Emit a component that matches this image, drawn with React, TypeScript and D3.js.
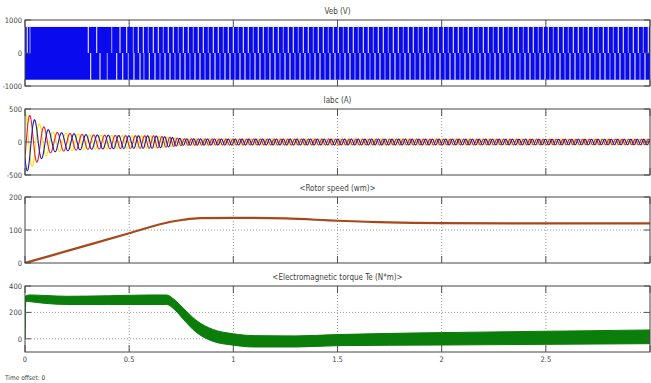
import React, { useEffect, useRef } from "react";
import * as d3 from "d3";

const W = 651;
const H = 383;

// time axis (s)
const xTicks = [0, 0.5, 1, 1.5, 2, 2.5, 3];
const xTickLabels = ["0", "0.5", "1", "1.5", "2", "2.5", ""];

// panels
const titles = ["Veb (V)", "Iabc (A)", "<Rotor speed (wm)>", "<Electromagnetic torque Te (N*m)>"];
const yDomains = [[-1000, 1000], [-500, 500], [0, 200], [-100, 400]];
const yTicks = [[-1000, 0, 1000], [-500, 0, 500], [0, 100, 200], [0, 200, 400]];

// Veb: PWM levels and switching gaps (s)
const vebLevels = [790, -810];
const vebUpperGaps = [0.011, 0.024, 0.304, 0.344, 0.416, 0.456, 0.488, 0.52, 0.544, 0.568, 0.592, 0.616];
const vebLowerGaps = [0.315, 0.36, 0.395, 0.44, 0.469, 0.496, 0.523, 0.552, 0.571, 0.597, 0.624];
const vebGapPeriod = 0.024; // regular switching after the listed gaps

// Iabc: envelope amplitude (A) and electrical frequency (Hz)
const iabcEnvT = [0, 0.03, 0.07, 0.13, 0.3, 0.5, 0.62, 0.7, 0.76, 1.0, 3.0];
const iabcEnvA = [470, 380, 270, 150, 110, 95, 95, 70, 48, 45, 42];
const iabcFreqT = [0, 0.15, 0.3, 0.5, 0.65, 0.76, 3.0];
const iabcFreqHz = [14, 16, 18, 21, 25, 30, 32];
const phaseColors = ["#f2e600", "#e8202a", "#1c1ca8"];

// rotor speed (rad/s)
const speedT = [0, 0.25, 0.5, 0.7, 0.76, 0.84, 1.0, 1.25, 1.5, 1.75, 2.0, 2.5, 3.0];
const speedW = [0, 45, 90, 125, 131, 136, 137, 135, 128, 123, 121, 120, 120];

// electromagnetic torque band (N*m)
const teT = [0, 0.004, 0.02, 0.1, 0.2, 0.4, 0.6, 0.68, 0.72, 0.76, 0.82, 0.9, 1.0, 1.1, 1.3, 1.5, 2.0, 2.5, 3.0];
const teHi = [320, 325, 332, 328, 322, 326, 332, 332, 292, 232, 142, 72, 38, 24, 22, 32, 47, 57, 67];
const teLo = [0, 285, 282, 268, 260, 260, 260, 260, 218, 148, 52, -18, -48, -62, -62, -52, -47, -42, -37];

const FONT = "'Liberation Sans Narrow', 'Arial Narrow', 'DejaVu Sans Condensed', sans-serif";

const App = () => {
  const ref = useRef<SVGSVGElement>(null);

  useEffect(() => {
    const svg = d3.select(ref.current);
    svg.selectAll("*").remove();

    const x = d3.scaleLinear().domain([0, 3]).range([25, 650]);
    const panelTops = [20, 109, 197, 286];
    const panelH = 66;

    const ys = yDomains.map((dom, i) =>
      d3.scaleLinear().domain(dom).range([panelTops[i] + panelH, panelTops[i]])
    );

    panelTops.forEach((top, i) => {
      const g = svg.append("g");
      const y = ys[i];

      g.append("clipPath")
        .attr("id", `clip${i}`)
        .append("rect")
        .attr("x", x(0))
        .attr("y", top)
        .attr("width", x(3) - x(0))
        .attr("height", panelH);

      // grid
      g.selectAll("line.vg")
        .data(xTicks.slice(1, -1))
        .join("line")
        .attr("x1", (d) => x(d))
        .attr("x2", (d) => x(d))
        .attr("y1", top)
        .attr("y2", top + panelH)
        .attr("stroke", "#999")
        .attr("stroke-dasharray", "1,2");
      g.selectAll("line.hg")
        .data(yTicks[i].filter((d) => d !== y.domain()[0] && d !== y.domain()[1]))
        .join("line")
        .attr("x1", x(0))
        .attr("x2", x(3))
        .attr("y1", (d) => y(d))
        .attr("y2", (d) => y(d))
        .attr("stroke", "#999")
        .attr("stroke-dasharray", "1,2");

      const plot = g.append("g").attr("clip-path", `url(#clip${i})`);

      if (i === 0) {
        plot.append("rect")
          .attr("x", x(0)).attr("width", x(3) - x(0))
          .attr("y", y(vebLevels[0])).attr("height", y(0) - y(vebLevels[0]))
          .attr("fill", "#0a0aef");
        plot.append("rect")
          .attr("x", x(0)).attr("width", x(3) - x(0))
          .attr("y", y(0)).attr("height", y(vebLevels[1]) - y(0))
          .attr("fill", "#0a0aef");
        const upper = vebUpperGaps.concat(d3.range(vebUpperGaps[vebUpperGaps.length - 1] + vebGapPeriod, 3, vebGapPeriod));
        const lower = vebLowerGaps.concat(d3.range(vebLowerGaps[vebLowerGaps.length - 1] + vebGapPeriod, 3, vebGapPeriod));
        plot.selectAll("line.gu").data(upper).join("line")
          .attr("x1", (d) => x(d)).attr("x2", (d) => x(d))
          .attr("y1", y(vebLevels[0])).attr("y2", y(0))
          .attr("stroke", "#fff").attr("stroke-width", 1.2).attr("stroke-opacity", (d, k) => (k % 3 === 1 ? 0.55 : 0.85));
        plot.selectAll("line.gl").data(lower).join("line")
          .attr("x1", (d) => x(d)).attr("x2", (d) => x(d))
          .attr("y1", y(0)).attr("y2", y(vebLevels[1]))
          .attr("stroke", "#fff").attr("stroke-width", 1.2).attr("stroke-opacity", (d, k) => (k % 3 === 2 ? 0.55 : 0.85));
      }

      if (i === 1) {
        const env = d3.scaleLinear().domain(iabcEnvT).range(iabcEnvA);
        const freq = d3.scaleLinear().domain(iabcFreqT).range(iabcFreqHz);
        const dt = 0.0004;
        const ts = d3.range(0, 3 + dt, dt);
        let ph = 0;
        const phases = ts.map((t) => {
          const p = ph;
          ph += 2 * Math.PI * freq(t) * dt;
          return p;
        });
        phaseColors.forEach((c, k) => {
          const line = d3.line<number>()
            .x((t) => x(t))
            .y((t, j) => y(env(t) * Math.sin(phases[j] + Math.PI / 2 - (k * 2 * Math.PI) / 3)));
          plot.append("path")
            .attr("d", line(ts))
            .attr("fill", "none")
            .attr("stroke", c)
            .attr("stroke-width", 1.1);
        });
      }

      if (i === 2) {
        const line = d3.line<number>()
          .x((d) => x(speedT[d]))
          .y((d) => y(speedW[d]))
          .curve(d3.curveMonotoneX);
        plot.append("path")
          .attr("d", line(d3.range(speedT.length)))
          .attr("fill", "none")
          .attr("stroke", "#a8481a")
          .attr("stroke-width", 2.2);
      }

      if (i === 3) {
        const area = d3.area<number>()
          .x((d) => x(teT[d]))
          .y0((d) => y(teLo[d]))
          .y1((d) => y(teHi[d]))
          .curve(d3.curveMonotoneX);
        plot.append("path")
          .attr("d", area(d3.range(teT.length)))
          .attr("fill", "#0a7d0a")
          .attr("stroke", "#0a7d0a")
          .attr("stroke-width", 1);
      }

      // ticks
      const tickC = "#555";
      g.selectAll("line.xt").data(xTicks).join("line")
        .attr("x1", (d) => x(d)).attr("x2", (d) => x(d))
        .attr("y1", top).attr("y2", top + 7)
        .attr("stroke", tickC);
      g.selectAll("line.xb").data(xTicks).join("line")
        .attr("x1", (d) => x(d)).attr("x2", (d) => x(d))
        .attr("y1", top + panelH - 7).attr("y2", top + panelH)
        .attr("stroke", tickC);
      g.selectAll("line.yl").data(yTicks[i]).join("line")
        .attr("x1", x(0)).attr("x2", x(0) + 6)
        .attr("y1", (d) => y(d)).attr("y2", (d) => y(d))
        .attr("stroke", tickC);
      g.selectAll("line.yr").data(yTicks[i]).join("line")
        .attr("x1", x(3) - 6).attr("x2", x(3))
        .attr("y1", (d) => y(d)).attr("y2", (d) => y(d))
        .attr("stroke", tickC);

      // frame
      g.append("rect")
        .attr("x", x(0)).attr("y", top)
        .attr("width", x(3) - x(0)).attr("height", panelH)
        .attr("fill", "none").attr("stroke", "#444");

      // y labels
      g.selectAll("text.yl").data(yTicks[i]).join("text")
        .attr("x", x(0) - 3)
        .attr("y", (d) => y(d) + 3)
        .attr("text-anchor", "end")
        .attr("font-size", 7.5)
        .attr("font-family", FONT)
        .attr("fill", "#444")
        .text((d) => String(d));

      // title
      g.append("text")
        .attr("x", (x(0) + x(3)) / 2)
        .attr("y", top - 6)
        .attr("text-anchor", "middle")
        .attr("font-size", 8)
        .attr("font-family", FONT)
        .attr("fill", "#444")
        .text(titles[i]);
    });

    // x labels on the bottom panel
    svg.selectAll("text.xl").data(xTicks).join("text")
      .attr("x", (d) => x(d))
      .attr("y", 362)
      .attr("text-anchor", "middle")
      .attr("font-size", 7.5)
      .attr("font-family", FONT)
      .attr("fill", "#444")
      .text((d, k) => xTickLabels[k]);

    svg.append("text")
      .attr("x", 5)
      .attr("y", 380)
      .attr("font-size", 6.5)
      .attr("font-family", FONT)
      .attr("fill", "#444")
      .text("Time offset:  0");
  }, []);

  return (
    <svg
      ref={ref}
      width={W}
      height={H}
      style={{ position: "absolute", left: 0, top: 0, background: "#fff" }}
    />
  );
};

export default App;
